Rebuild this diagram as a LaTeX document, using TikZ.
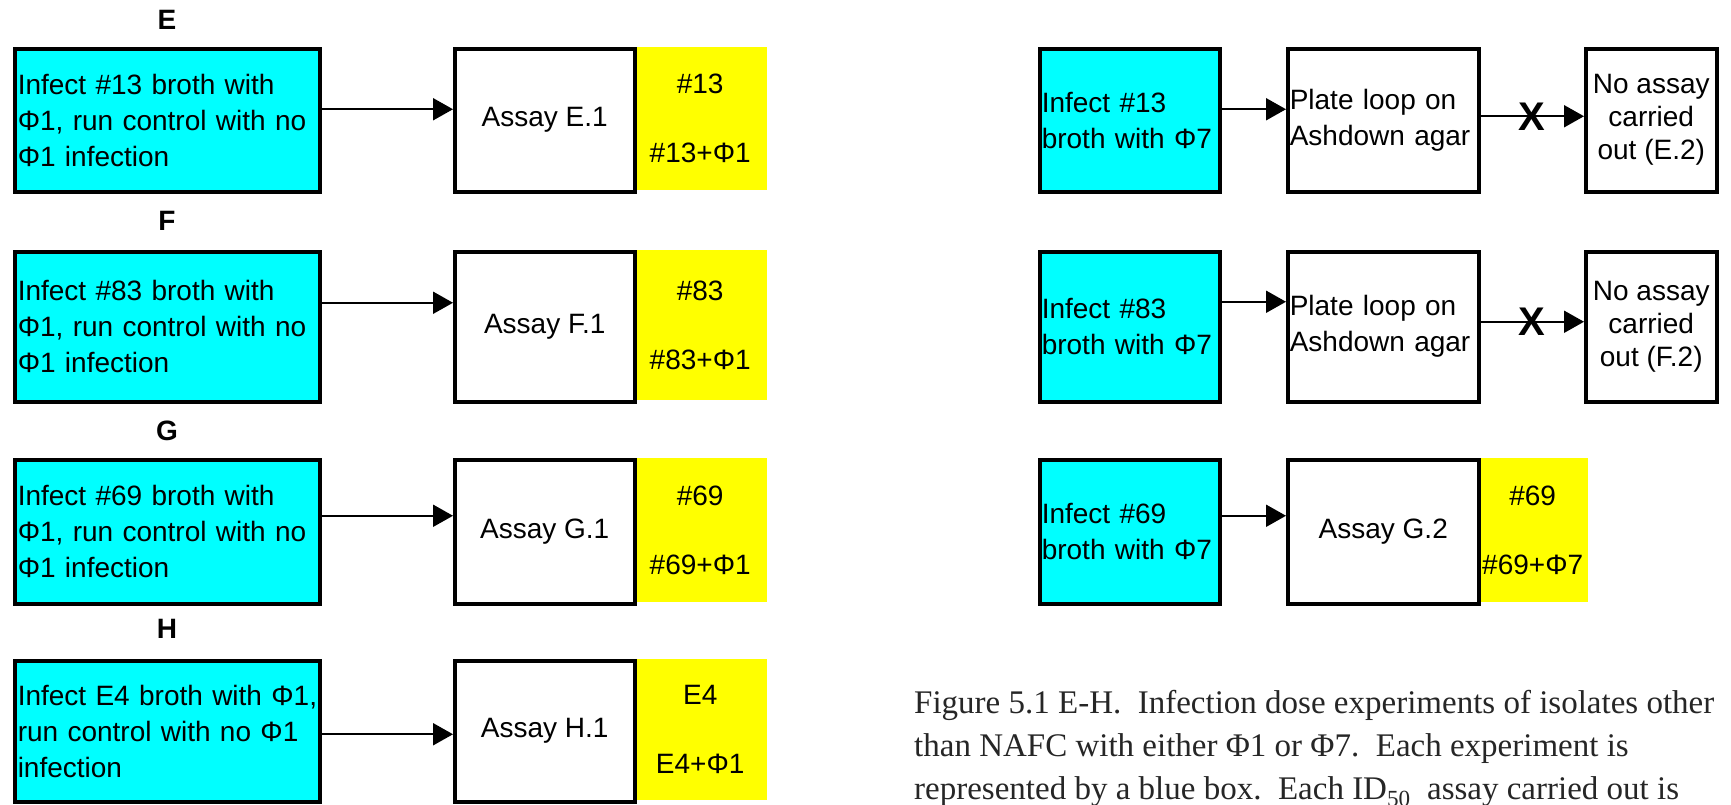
\documentclass[tikz,border=0pt]{standalone}
\usepackage{fontspec}
\setmainfont{Liberation Sans}
\newfontfamily\capfont{Liberation Serif}
\usetikzlibrary{arrows.meta}
\definecolor{boxcyan}{RGB}{0,255,255}
\definecolor{boxyellow}{RGB}{255,255,0}
\tikzset{
  basebox/.style={draw=black, line width=3.5pt, anchor=north west, minimum height=143pt, font=\fontsize{28}{36}\selectfont},
  cyanL/.style={basebox, fill=boxcyan, minimum width=305pt, text width=299pt, inner xsep=3pt, align=left},
  cyanR/.style={basebox, fill=boxcyan, minimum width=180pt, text width=176pt, inner xsep=2pt, align=left},
  assaybox/.style={basebox, fill=white, minimum width=180pt, align=center},
  platebox/.style={basebox, fill=white, minimum width=191pt, text width=187pt, inner xsep=2pt, align=left},
  noassay/.style={basebox, fill=white, minimum width=131pt, align=center, font=\fontsize{28}{33}\selectfont},
  yellowbox/.style={fill=boxyellow, anchor=north west, minimum height=143pt, align=center, font=\fontsize{28}{69}\selectfont},
  rowlabel/.style={font=\bfseries\fontsize{28}{28}\selectfont},
  arr/.style={line width=2pt, -{Triangle[length=20pt,width=22pt]}},
  xmark/.style={font=\bfseries\fontsize{40}{40}\selectfont, inner sep=0pt}
}
\begin{document}
\begin{tikzpicture}[x=1pt,y=-1pt]
\clip (0,0) rectangle (1731,804);
\fill[white] (0,0) rectangle (1731,804);
% ---------- left column ----------
\node[rowlabel] (lE) at (167,20) {E};
\node[cyanL] (cE) at (13,47) {\mbox{Infect \#13 broth with}\\\mbox{Φ1, run control with no}\\\mbox{Φ1 infection}};
\node[yellowbox, minimum width=134pt] (yE) at (633,47) {\#13\\\#13+Φ1};
\node[assaybox] (aE) at (453,47) {Assay E.1};
\draw[arr] ([yshift=11pt]cE.east) -- ([yshift=11pt]aE.west);

\node[rowlabel] (lF) at (167,221) {F};
\node[cyanL, minimum height=150pt] (cF) at (13,250) {\mbox{Infect \#83 broth with}\\\mbox{Φ1, run control with no}\\\mbox{Φ1 infection}};
\node[yellowbox, minimum width=134pt, minimum height=150pt] (yF) at (633,250) {\#83\\\#83+Φ1};
\node[assaybox, minimum height=150pt] (aF) at (453,250) {Assay F.1};
\draw[arr] ([yshift=24pt]cF.east) -- ([yshift=24pt]aF.west);

\node[rowlabel] (lG) at (167,431) {G};
\node[cyanL, minimum height=144pt] (cG) at (13,458) {\mbox{Infect \#69 broth with}\\\mbox{Φ1, run control with no}\\\mbox{Φ1 infection}};
\node[yellowbox, minimum width=134pt, minimum height=144pt] (yG) at (633,458) {\#69\\\#69+Φ1};
\node[assaybox, minimum height=144pt] (aG) at (453,458) {Assay G.1};
\draw[arr] ([yshift=16pt]cG.east) -- ([yshift=16pt]aG.west);

\node[rowlabel] (lH) at (167,629) {H};
\node[cyanL, minimum height=141pt] (cH) at (13,659) {\mbox{Infect E4 broth with Φ1,}\\\mbox{run control with no Φ1}\\\mbox{infection}};
\node[yellowbox, minimum width=134pt, minimum height=141pt] (yH) at (633,659) {E4\\E4+Φ1};
\node[assaybox, minimum height=141pt] (aH) at (453,659) {Assay H.1};
\draw[arr] ([yshift=-3pt]cH.east) -- ([yshift=-3pt]aH.west);

% ---------- right column ----------
\node[cyanR] (c13) at (1038,47) {\mbox{Infect \#13}\\\mbox{broth with Φ7}};
\node[platebox] (p13) at (1286,47) {\mbox{Plate loop on}\\\mbox{Ashdown agar}};
\node[noassay] (n13) at (1584,47) {No assay\\carried\\out (E.2)};
\draw[arr] ([yshift=11pt]c13.east) -- ([yshift=11pt]p13.west);
\draw[arr] ([yshift=4pt]p13.east) -- node[xmark] (x13) {X} ([yshift=4pt]n13.west);

\node[cyanR, minimum height=150pt] (c83) at (1038,250) {\mbox{Infect \#83}\\\mbox{broth with Φ7}};
\node[platebox, minimum height=150pt] (p83) at (1286,250) {\mbox{Plate loop on}\\\mbox{Ashdown agar}};
\node[noassay, minimum height=150pt] (n83) at (1584,250) {No assay\\carried\\out (F.2)};
\draw[arr] ([yshift=25pt]c83.east) -- ([yshift=25pt]p83.west);
\draw[arr] ([yshift=5pt]p83.east) -- node[xmark] (x83) {X} ([yshift=5pt]n83.west);

\node[cyanR, minimum height=144pt] (c69) at (1038,458) {\mbox{Infect \#69}\\\mbox{broth with Φ7}};
\node[yellowbox, minimum width=111pt, minimum height=144pt] (y69) at (1477,458) {\#69\\\#69+Φ7};
\node[assaybox, minimum width=191pt, minimum height=144pt] (a69) at (1286,458) {Assay G.2};
\draw[arr] ([yshift=16pt]c69.east) -- ([yshift=16pt]a69.west);

% ---------- caption ----------
\node[anchor=north west, align=left, inner sep=0pt, text=black!85,
      font=\capfont\fontsize{33}{43}\selectfont] (cap) at (914,690)
 {Figure 5.1 E-H.\ \ Infection dose experiments of isolates other\\
  than NAFC with either Φ1 or Φ7.\ \ Each experiment is\\
  represented by a blue box.\ \ Each ID\textsubscript{50}\ \ assay carried out is};
\end{tikzpicture}
\end{document}
